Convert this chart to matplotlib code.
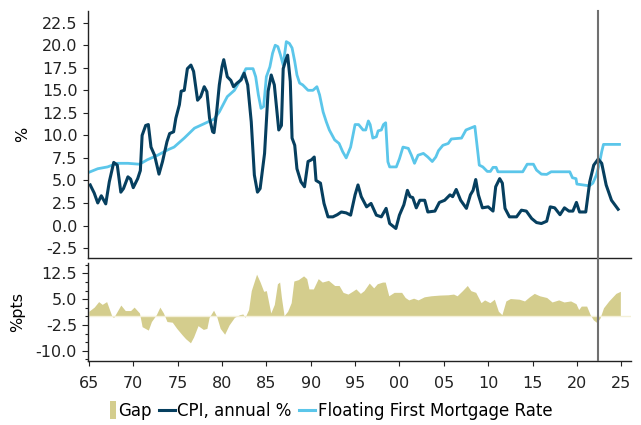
import matplotlib
matplotlib.use("Agg")
import matplotlib.pyplot as plt
from matplotlib.patches import Rectangle, Patch
from matplotlib.lines import Line2D
from matplotlib.legend_handler import HandlerPatch
from matplotlib.ticker import MultipleLocator, FixedLocator

# ---------------- data ----------------
cpi_years = [1965.15, 1965.6, 1966.0, 1966.4, 1966.9, 1967.3, 1967.8, 1968.2, 1968.6, 1968.9,
             1969.4, 1969.7, 1970.0, 1970.5, 1970.8, 1971.0, 1971.4, 1971.7, 1972.0, 1972.4,
             1972.9, 1973.3, 1973.8, 1974.1, 1974.55, 1974.8, 1975.2, 1975.4, 1975.75, 1976.1,
             1976.5, 1976.8, 1977.25, 1977.6, 1978.0, 1978.3, 1978.6, 1978.95, 1979.1, 1979.4,
             1979.7, 1980.0, 1980.2, 1980.6, 1981.0, 1981.3, 1981.7, 1982.15, 1982.5, 1982.9,
             1983.3, 1983.65, 1984.0, 1984.3, 1984.8, 1985.2, 1985.55, 1985.9, 1986.4, 1986.7,
             1986.9, 1987.2, 1987.4, 1987.7, 1987.9, 1988.2, 1988.45, 1988.9, 1989.3, 1989.7,
             1990.1, 1990.4, 1990.6, 1991.1, 1991.5, 1991.95, 1992.5, 1993.0, 1993.45, 1994.0,
             1994.5, 1995.0, 1995.33, 1995.7, 1996.3, 1996.8, 1997.4, 1997.96, 1998.5, 1998.9,
             1999.6, 2000.0, 2000.5, 2000.9, 2001.2, 2001.5, 2001.9, 2002.3, 2002.85, 2003.2,
             2004.0, 2004.5, 2005.1, 2005.7, 2006.0, 2006.4, 2006.9, 2007.55, 2008.0, 2008.3,
             2008.6, 2008.9, 2009.35, 2010.0, 2010.55, 2010.85, 2011.3, 2011.6, 2011.9, 2012.4,
             2013.2, 2013.75, 2014.3, 2014.9, 2015.45, 2016.0, 2016.6, 2017.0, 2017.5, 2018.1,
             2018.6, 2019.1, 2019.55, 2019.95, 2020.3, 2021.0, 2021.45, 2021.9, 2022.4, 2022.8,
             2023.3, 2023.9, 2024.65]
cpi_values = [4.5, 3.6, 2.5, 3.3, 2.4, 4.85, 7.0, 6.7, 3.7, 4.1,
              5.4, 5.15, 4.2, 5.2, 6.1, 10.0, 11.1, 11.2, 8.7, 7.8,
              5.7, 7.1, 9.3, 10.2, 10.4, 11.9, 13.4, 14.9, 15.0, 17.4,
              17.8, 17.1, 13.9, 14.3, 15.4, 14.85, 11.9, 10.4, 10.3, 12.6,
              15.6, 17.6, 18.4, 16.5, 16.1, 15.4, 15.8, 16.15, 16.9, 15.6,
              11.5, 5.6, 3.7, 4.1, 8.0, 14.9, 16.7, 15.6, 10.6, 11.1,
              17.4, 18.4, 18.9, 16.0, 9.7, 8.9, 6.3, 4.85, 4.3, 7.1,
              7.3, 7.6, 5.0, 4.7, 2.45, 0.96, 0.96, 1.2, 1.5, 1.4,
              1.15, 3.4, 4.5, 3.2, 2.07, 2.45, 1.15, 0.96, 1.9, 0.22,
              -0.33, 1.15, 2.3, 3.9, 3.2, 3.1, 1.96, 2.8, 2.8, 1.5,
              1.6, 2.56, 2.8, 3.4, 3.2, 4.0, 2.8, 1.9, 3.4, 3.9,
              5.1, 3.4, 1.96, 2.07, 1.6, 4.3, 5.2, 4.7, 1.9, 0.96,
              0.96, 1.7, 1.6, 0.78, 0.33, 0.22, 0.48, 2.07, 1.96, 1.2,
              1.96, 1.6, 1.6, 2.56, 1.5, 1.5, 4.85, 6.7, 7.37, 6.9,
              4.5, 2.8, 1.8]

mort_years = [1965.0, 1966.0, 1967.1, 1968.2, 1969.4, 1970.7, 1971.6, 1972.75, 1973.9, 1974.6,
              1975.75, 1976.9, 1978.0, 1979.1, 1979.7, 1980.6, 1981.4, 1982.1, 1982.7, 1983.5,
              1983.8, 1984.1, 1984.4, 1984.7, 1985.0, 1985.4, 1985.7, 1986.0, 1986.3, 1986.6,
              1986.9, 1987.25, 1987.6, 1987.9, 1988.2, 1988.45, 1988.75, 1989.1, 1989.7, 1990.25,
              1990.7, 1991.0, 1991.4, 1991.76, 1992.1, 1992.7, 1993.2, 1993.6, 1994.0, 1994.5,
              1995.0, 1995.4, 1995.9, 1996.2, 1996.5, 1996.7, 1997.0, 1997.4, 1997.6, 1997.96,
              1998.2, 1998.45, 1998.7, 1998.9, 1999.65, 2000.0, 2000.4, 2001.0, 2001.35, 2001.7,
              2002.1, 2002.7, 2003.2, 2003.7, 2004.1, 2004.4, 2004.9, 2005.5, 2005.85, 2007.0,
              2007.5, 2008.0, 2008.5, 2008.7, 2009.0, 2009.4, 2009.9, 2010.25, 2010.55, 2010.9,
              2011.1, 2013.9, 2014.4, 2015.1, 2015.45, 2016.0, 2016.6, 2017.1, 2019.2, 2019.5,
              2019.9, 2020.0, 2020.7, 2021.4, 2021.8, 2022.2, 2022.5, 2022.8, 2023.0, 2024.8]
mort_values = [5.9, 6.3, 6.5, 6.9, 6.9, 6.8, 7.3, 7.8, 8.4, 8.7,
               9.7, 10.8, 11.3, 11.8, 12.6, 14.3, 15.0, 16.2, 17.4, 17.4,
               16.5, 14.5, 13.0, 13.2, 16.5, 17.6, 19.1, 20.0, 19.85, 18.9,
               17.8, 20.4, 20.2, 19.7, 18.2, 16.7, 15.8, 15.6, 15.0, 15.0,
               15.4, 14.5, 12.6, 11.5, 10.6, 9.5, 9.1, 8.2, 7.5, 8.7,
               11.2, 11.2, 10.6, 10.6, 11.6, 11.2, 9.7, 9.85, 10.5, 10.6,
               11.2, 11.4, 7.07, 6.5, 6.5, 7.4, 8.7, 8.56, 7.8, 6.9,
               7.8, 8.0, 7.6, 7.1, 7.6, 8.3, 8.9, 9.1, 9.6, 9.7,
               10.6, 10.8, 11.0, 9.3, 6.7, 6.5, 6.0, 6.0, 6.45, 6.45,
               5.96, 5.96, 6.8, 6.8, 6.15, 5.7, 5.67, 5.96, 5.96, 5.3,
               5.2, 4.6, 4.5, 4.4, 4.7, 5.6, 6.7, 8.2, 9.0, 9.0]

gap_years = [1965.0, 1965.6, 1966.1, 1966.5, 1967.0, 1967.6, 1967.8, 1968.2, 1968.6, 1969.1,
             1969.7, 1970.1, 1970.7, 1971.0, 1971.7, 1972.05, 1972.6, 1973.0, 1973.4, 1973.8,
             1974.4, 1974.9, 1975.55, 1975.9, 1976.45, 1976.8, 1977.3, 1977.9, 1978.3, 1978.55,
             1979.05, 1979.4, 1979.8, 1980.3, 1980.8, 1981.4, 1982.0, 1982.35, 1982.6, 1983.0,
             1983.3, 1983.9, 1984.3, 1984.7, 1985.0, 1985.5, 1985.9, 1986.25, 1986.5, 1986.7,
             1987.0, 1987.4, 1987.8, 1988.1, 1988.6, 1989.2, 1989.55, 1989.8, 1990.3, 1990.85,
             1991.3, 1992.0, 1992.7, 1993.2, 1993.65, 1994.2, 1994.7, 1995.1, 1995.6, 1996.0,
             1996.6, 1997.1, 1997.5, 1998.1, 1998.4, 1998.8, 1999.4, 2000.25, 2000.65, 2001.05,
             2001.6, 2002.1, 2002.8, 2003.55, 2004.5, 2005.5, 2006.1, 2006.5, 2007.1, 2007.65,
             2008.05, 2008.6, 2009.2, 2009.6, 2010.2, 2010.7, 2011.15, 2011.55, 2012.0, 2012.5,
             2013.5, 2014.1, 2014.65, 2015.2, 2015.8, 2016.6, 2017.2, 2017.95, 2018.55, 2019.3,
             2019.9, 2020.2, 2020.5, 2021.1, 2021.5, 2021.85, 2022.25, 2022.6, 2023.0, 2023.6,
             2024.4, 2024.9]
gap_values = [1.5, 2.7, 4.3, 3.5, 4.3, 0.0, -0.3, 1.5, 3.3, 1.7,
              1.7, 2.7, 1.0, -3.0, -4.0, -1.5, 0.5, 2.7, 1.0, -1.5,
              -1.7, -3.5, -5.5, -6.5, -7.7, -6.0, -2.7, -3.8, -3.5, -0.3,
              1.8, 0.0, -3.5, -5.2, -2.5, -0.3, 0.5, 0.7, -0.3, 2.0,
              7.5, 12.3, 10.0, 7.3, 7.5, 1.0, 3.5, 9.5, 10.0, 5.5,
              0.2, 1.5, 4.0, 10.3, 10.7, 11.8, 11.0, 8.0, 8.0, 11.0,
              10.0, 10.5, 9.0, 9.0, 7.0, 6.5, 7.3, 8.0, 6.7, 7.5,
              9.7, 8.3, 9.5, 10.0, 10.0, 6.0, 7.0, 7.0, 5.5, 4.8,
              5.3, 4.8, 5.7, 6.0, 6.2, 6.3, 6.5, 6.0, 7.5, 9.0,
              7.5, 7.0, 4.0, 4.8, 4.0, 5.0, 1.5, 0.5, 4.5, 5.2,
              5.0, 4.5, 5.7, 6.7, 6.0, 5.5, 4.2, 4.8, 4.2, 4.5,
              3.7, 2.0, 3.0, 3.0, 0.5, -1.0, -1.8, -0.5, 2.5, 4.5,
              6.7, 7.3]

x_ticks = [1965, 1970, 1975, 1980, 1985, 1990, 1995, 2000, 2005, 2010, 2015, 2020, 2025]
x_tick_labels = ["65", "70", "75", "80", "85", "90", "95", "00", "05", "10", "15", "20", "25"]
top_ticks = [-2.5, 0.0, 2.5, 5.0, 7.5, 10.0, 12.5, 15.0, 17.5, 20.0, 22.5]
bottom_ticks = [-10.0, -2.5, 5.0, 12.5]
marker_year = 2022.35

# ---------------- style ----------------
CPI_C = "#063f5f"
MORT_C = "#5bc6ea"
GAP_C = "#d4cd8d"
VLINE_C = "#707070"
FS = 11.5
LEG_FS = 12.0

plt.rcParams["font.family"] = ["DejaVu Sans"]
plt.rcParams["font.size"] = FS

fig = plt.figure(figsize=(6.41, 4.25), dpi=100)
W, H = 641, 425
def ax_rect(x0, y0, x1, y1):
    return [x0 / W, 1 - y1 / H, (x1 - x0) / W, (y1 - y0) / H]

ax1 = fig.add_axes(ax_rect(88, 11, 631, 257.5))
ax2 = fig.add_axes(ax_rect(88, 262.5, 631, 361))

xlim = (1964.9, 2026.1)

# top panel
ax1.plot(mort_years, mort_values, color=MORT_C, lw=2.0, solid_joinstyle="round")
ax1.plot(cpi_years, cpi_values, color=CPI_C, lw=2.2, solid_joinstyle="round")
ax1.set_xlim(*xlim)
ax1.set_ylim(-3.55, 23.8)
ax1.yaxis.set_major_locator(FixedLocator(top_ticks))
ax1.set_yticklabels([f"{t:.1f}" for t in top_ticks])
ax1.tick_params(axis="x", bottom=False, labelbottom=False)
ax1.tick_params(axis="y", length=3.5, width=0.8, pad=4, labelsize=FS, colors="#222222")
for s in ["top", "right"]:
    ax1.spines[s].set_visible(False)
for s in ["left", "bottom"]:
    ax1.spines[s].set_color("#222222")
    ax1.spines[s].set_linewidth(1.0)
ax1.set_ylabel("%", fontsize=FS)
ax1.yaxis.set_label_coords(-0.107, 0.5)
ax1.axvline(marker_year, ymin=-0.03, ymax=1, color=VLINE_C, lw=1.5, clip_on=False, zorder=5)

# bottom panel
ax2.fill_between(gap_years, gap_values, 0, color=GAP_C, lw=0)
ax2.axhline(0, color="#f4f0d8", lw=1.0)
ax2.set_xlim(*xlim)
ax2.set_ylim(-13.0, 15.7)
ax2.yaxis.set_major_locator(FixedLocator(bottom_ticks))
ax2.set_yticklabels([f"{t:.1f}" for t in bottom_ticks])
ax2.yaxis.set_minor_locator(MultipleLocator(2.5))
ax2.set_xticks(x_ticks)
ax2.set_xticklabels(x_tick_labels)
ax2.tick_params(axis="y", which="major", length=4, width=0.8, pad=4, labelsize=FS, colors="#222222")
ax2.tick_params(axis="y", which="minor", length=2.5, width=0.8, colors="#222222")
ax2.tick_params(axis="x", length=3.5, width=0.8, pad=7, labelsize=FS, colors="#222222")
for s in ["top", "right"]:
    ax2.spines[s].set_visible(False)
for s in ["left", "bottom"]:
    ax2.spines[s].set_color("#222222")
    ax2.spines[s].set_linewidth(1.0)
ax2.set_ylabel("%pts", fontsize=FS)
ax2.yaxis.set_label_coords(-0.115, 0.5)
ax2.axvline(marker_year, color=VLINE_C, lw=1.5, zorder=5)

# legend
class NarrowPatch(HandlerPatch):
    def create_artists(self, legend, orig_handle, xdescent, ydescent, width, height, fontsize, trans):
        w = 6.0 * 72 / 100
        h = height * 1.5
        r = Rectangle((width - w - xdescent, -ydescent - height * 0.25), w, h,
                      facecolor=GAP_C, edgecolor="none", transform=trans)
        return [r]

handles = [Patch(facecolor=GAP_C, edgecolor="none"),
           Line2D([], [], color=CPI_C, lw=2.2),
           Line2D([], [], color=MORT_C, lw=2.2)]
labels = ["Gap", "CPI, annual %", "Floating First Mortgage Rate"]
fig.legend(handles, labels, loc="center", bbox_to_anchor=(326 / W, 1 - 411 / H),
           ncol=3, frameon=False, fontsize=LEG_FS, handlelength=0.95, handletextpad=0.15,
           columnspacing=0.45, handler_map={Patch: NarrowPatch()})

fig.savefig("out.png", dpi=100)
